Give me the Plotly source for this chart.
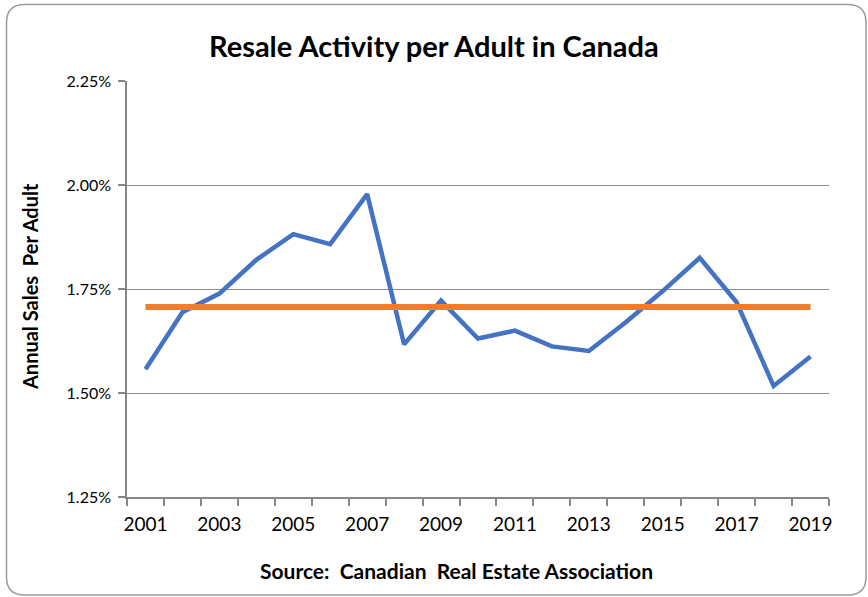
import plotly.graph_objects as go

# Annual resale activity per adult, Canada (percent of adult population)
years = list(range(2001, 2020))
sales_per_adult = [1.557, 1.694, 1.739, 1.820, 1.882, 1.858, 1.978, 1.617, 1.722,
                   1.631, 1.650, 1.612, 1.601, 1.670, 1.745, 1.825, 1.718, 1.517, 1.588]
y_ticks = [1.25, 1.50, 1.75, 2.00, 2.25]
y_tick_text = ["1.25%", "1.50%", "1.75%", "2.00%", "2.25%"]
x_label_years = [2001, 2003, 2005, 2007, 2009, 2011, 2013, 2015, 2017, 2019]

# Period average drawn as a flat reference line
average = sum(sales_per_adult) / len(sales_per_adult)

W, H = 868, 597
L, R, T, B = 127, 39, 81, 100
FONT = "Lato, 'Open Sans', sans-serif"

fig = go.Figure()
fig.add_trace(go.Scatter(
    x=years, y=sales_per_adult, mode="lines",
    line=dict(color="#4472C4", width=4.5), hoverinfo="x+y", showlegend=False))
fig.add_trace(go.Scatter(
    x=[years[0], years[-1]], y=[average, average], mode="lines",
    line=dict(color="#ED7D31", width=6), showlegend=False))

# Rounded outer frame, expressed in paper coordinates
pw, ph = W - L - R, H - T - B
def px(xp):
    return (xp - L) / pw
def py(yp):
    return 1 - (yp - T) / ph
x0, x1, y0, y1, r = 6.5, 866, 4.5, 595, 18
path = (f"M {px(x0 + r)},{py(y0)} L {px(x1 - r)},{py(y0)} "
        f"Q {px(x1)},{py(y0)} {px(x1)},{py(y0 + r)} "
        f"L {px(x1)},{py(y1 - r)} Q {px(x1)},{py(y1)} {px(x1 - r)},{py(y1)} "
        f"L {px(x0 + r)},{py(y1)} Q {px(x0)},{py(y1)} {px(x0)},{py(y1 - r)} "
        f"L {px(x0)},{py(y0 + r)} Q {px(x0)},{py(y0)} {px(x0 + r)},{py(y0)} Z")
fig.add_shape(type="path", path=path, xref="paper", yref="paper",
              line=dict(color="#9A9A9A", width=1.5), layer="below")

def label(text, x, y, size, angle=0):
    fig.add_annotation(text=text, x=px(x), y=py(y), xref="paper", yref="paper",
                       xanchor="center", yanchor="middle", textangle=angle,
                       showarrow=False, font=dict(family=FONT, size=size, color="#000000"))

label("<b>Resale Activity per Adult in Canada</b>", 434, 45, 29)
label("<b>Annual Sales  Per Adult</b>", 30, 287, 20, angle=-90)
label("<b>Source:  Canadian  Real Estate Association</b>", 456, 570, 21)

fig.update_layout(
    width=W, height=H, margin=dict(l=L, r=R, t=T, b=B),
    paper_bgcolor="white", plot_bgcolor="white",
    font=dict(family=FONT, size=19, color="#000000"),
)
fig.update_xaxes(
    range=[2000.5, 2019.5], tickmode="array", tickvals=x_label_years,
    ticks="", showgrid=False, zeroline=False,
    showline=True, linecolor="#868686", linewidth=1.5,
    minor=dict(tickmode="array", tickvals=[y - 0.5 for y in years] + [years[-1] + 0.5],
               ticks="outside", ticklen=7, tickcolor="#868686", tickwidth=1.5, showgrid=False),
    tickfont=dict(size=19), ticklabelstandoff=9)
fig.update_yaxes(
    range=[1.25, 2.25], tickmode="array", tickvals=y_ticks, ticktext=y_tick_text,
    ticks="outside", ticklen=7, tickcolor="#868686", tickwidth=1.5,
    showgrid=True, gridcolor="#8C8C8C", gridwidth=1, zeroline=False,
    showline=True, linecolor="#868686", linewidth=1.5,
    tickfont=dict(size=16), ticklabelstandoff=4)

fig.write_html("out.html")
